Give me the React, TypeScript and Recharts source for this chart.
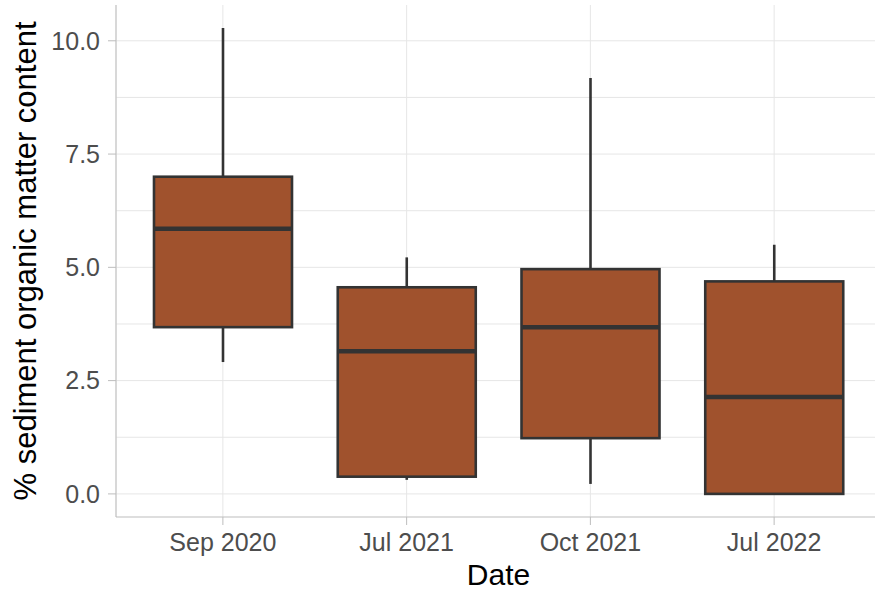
import React from "react"
import { BarChart, Bar, XAxis, YAxis, CartesianGrid } from "recharts"

const dates = ["Sep 2020", "Jul 2021", "Oct 2021", "Jul 2022"]
const lowerWhisker = [2.91, 0.31, 0.22, 0.0]
const q1 = [3.68, 0.38, 1.23, 0.0]
const median = [5.85, 3.15, 3.68, 2.14]
const q3 = [7.0, 4.56, 4.96, 4.69]
const upperWhisker = [10.28, 5.22, 9.18, 5.5]

const yTicks = [0, 2.5, 5, 7.5, 10]
const gridValues = [0, 1.25, 2.5, 3.75, 5, 6.25, 7.5, 8.75, 10]

const data = dates.map((date, i) => ({
  date,
  min: lowerWhisker[i],
  q1: q1[i],
  median: median[i],
  q3: q3[i],
  max: upperWhisker[i],
}))

const FONT = "'Liberation Sans', Arial, sans-serif"
const FILL = "#A0522D"
const LINE = "#333333"
const BORDER = "#bdbdbd"

// draws one box from the range bar (min..max) geometry
const BoxShape = (props: any) => {
  const { x, y, width, height, payload } = props
  const top = Math.min(y, y + height)
  const h = Math.abs(height)
  const span = payload.max - payload.min
  const py = (v: number) => (span === 0 ? top : top + ((payload.max - v) / span) * h)
  const cx = x + width / 2
  return (
    <g>
      <line x1={cx} x2={cx} y1={py(payload.max)} y2={py(payload.q3)} stroke={LINE} strokeWidth={2.6} />
      <line x1={cx} x2={cx} y1={py(payload.q1)} y2={py(payload.min)} stroke={LINE} strokeWidth={2.6} />
      <rect
        x={x}
        y={py(payload.q3)}
        width={width}
        height={py(payload.q1) - py(payload.q3)}
        fill={FILL}
        stroke={LINE}
        strokeWidth={2.6}
      />
      <line x1={x} x2={x + width} y1={py(payload.median)} y2={py(payload.median)} stroke={LINE} strokeWidth={4.5} />
    </g>
  )
}

const YTitle = ({ viewBox }: any) => {
  const cx = viewBox.x + 36
  const cy = viewBox.y + viewBox.height / 2
  return (
    <text
      x={cx}
      y={cy}
      transform={`rotate(-90 ${cx} ${cy})`}
      textAnchor="middle"
      fontSize={31}
      fontFamily={FONT}
      fill="#000"
    >
      % sediment organic matter content
    </text>
  )
}

const XTitle = ({ viewBox }: any) => (
  <text
    x={viewBox.x + viewBox.width / 2}
    y={viewBox.y + 68}
    textAnchor="middle"
    fontSize={30}
    fontFamily={FONT}
    fill="#000"
  >
    Date
  </text>
)

export default function App() {
  return (
    <div
      style={{
        position: "absolute",
        left: 0,
        top: 0,
        width: 875,
        height: 592,
        overflow: "hidden",
        background: "#fff",
      }}
    >
      <BarChart width={900} height={592} data={data} margin={{ top: 5, right: 19, bottom: 0, left: 0 }}>
        <CartesianGrid stroke="#e6e6e6" horizontalValues={gridValues} />
        <XAxis
          dataKey="date"
          height={75}
          padding={{ left: 15, right: 15 }}
          tickSize={8}
          tickMargin={8}
          axisLine={{ stroke: BORDER }}
          tickLine={{ stroke: BORDER }}
          tick={{ fill: "#4D4D4D", fontSize: 25, fontFamily: FONT }}
          label={<XTitle />}
        />
        <XAxis
          xAxisId="top"
          dataKey="date"
          orientation="top"
          height={0}
          tick={false}
          tickLine={false}
          axisLine={{ stroke: BORDER }}
        />
        <YAxis
          width={116}
          domain={[-0.51, 10.79]}
          ticks={yTicks}
          allowDataOverflow
          tickFormatter={(v: number) => v.toFixed(1)}
          tickSize={8}
          tickMargin={8}
          axisLine={{ stroke: BORDER }}
          tickLine={{ stroke: BORDER }}
          tick={{ fill: "#4D4D4D", fontSize: 25, fontFamily: FONT }}
          label={<YTitle />}
        />
        <Bar
          dataKey={(d: any) => [d.min, d.max]}
          barSize={138}
          shape={<BoxShape />}
          isAnimationActive={false}
        />
      </BarChart>
    </div>
  )
}
